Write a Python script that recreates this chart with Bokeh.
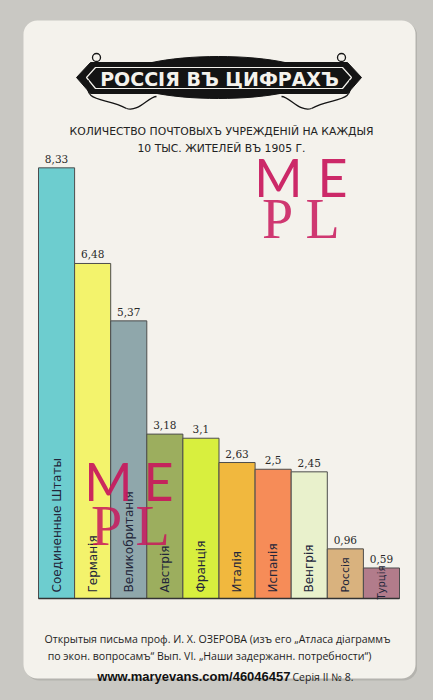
import math
from bokeh.plotting import figure
from bokeh.models import Range1d, BoxAnnotation, ColumnDataSource
from bokeh.core.properties import value
from bokeh.embed import file_html
from bokeh.resources import INLINE

# ---- data ----
countries = ["Соединенные Штаты", "Германія", "Великобританія", "Австрія", "Франція",
             "Италія", "Испанія", "Венгрія", "Россія", "Турція"]
offices = [8.33, 6.48, 5.37, 3.18, 3.1, 2.63, 2.5, 2.45, 0.96, 0.59]
bar_colors = ["#6dcdcf", "#f3f36c", "#8fa7ab", "#9cae5e", "#d8ef3e",
              "#f1b83e", "#f68c58", "#e9f1cc", "#d9b27e", "#b27c8b"]
value_labels = [f"{v:g}".replace(".", ",") for v in offices]

title = "РОССІЯ ВЪ ЦИФРАХЪ"
subtitle1 = "КОЛИЧЕСТВО ПОЧТОВЫХЪ УЧРЕЖДЕНІЙ НА КАЖДЫЯ"
subtitle2 = "10 ТЫС. ЖИТЕЛЕЙ ВЪ 1905 Г."
footer1 = "Открытыя письма проф. И. Х. ОЗЕРОВА (изъ его „Атласа діаграммъ"
footer2 = "по экон. вопросамъ“ Вып. VI. „Наши задержанн. потребности“)"
series_note = "Серія II № 8."
credit = "www.maryevans.com/46046457"

# ---- geometry helpers (picture pixel -> data) ----
W, H = 417, 684
SX, SY = 36.1, 51.7
x0 = -38 / SX
y1 = 598 / SY
def X(ix):
    return x0 + ix / SX
def Y(iy):
    return y1 - iy / SY

p = figure(width=W, height=H, output_backend="svg", toolbar_location=None,
           x_range=Range1d(x0, x0 + W / SX), y_range=Range1d(y1 - H / SY, y1),
           x_axis_type=None, y_axis_type=None, min_border=0,
           background_fill_color="#c9c8c3", border_fill_color="#c9c8c3",
           outline_line_color=None)
p.grid.visible = False

# card
p.add_layout(BoxAnnotation(left=X(25), right=X(417), top=Y(22), bottom=Y(680),
                           fill_color="#b4b3ae", fill_alpha=1, line_color=None,
                           border_radius=14, level="underlay"))
p.add_layout(BoxAnnotation(left=X(23), right=X(415), top=Y(20), bottom=Y(678),
                           fill_color="#f4f2ec", fill_alpha=1, line_color=None,
                           border_radius=14, level="underlay"))

# banner
p.patch([X(76), X(90), X(347), X(361), X(347), X(90)],
        [Y(77), Y(62), Y(62), Y(77), Y(93), Y(93)],
        fill_color="#141414", line_color="#141414")
p.ellipse(x=X(218), y=Y(77), width=190 / SX, height=42 / SY,
          fill_color="#141414", line_color="#141414")
p.patch([X(86), X(95), X(342), X(351), X(342), X(95)],
        [Y(77), Y(67), Y(67), Y(77), Y(88), Y(88)],
        fill_color=None, line_color="#f4f2ec", line_width=1.2)
# scroll ornaments
for cx, sgn in ((96, 1), (341, -1)):
    p.circle(x=X(cx), y=Y(57), radius=4 / SX, fill_color=None,
             line_color="#141414", line_width=1.3)
    p.bezier(x0=X(cx - 8 * sgn), y0=Y(80), x1=X(cx + 30 * sgn), y1=Y(108),
             cx0=X(cx - 14 * sgn), cy0=Y(104), cx1=X(cx + 10 * sgn), cy1=Y(96),
             line_color="#141414", line_width=1.3)
    p.bezier(x0=X(cx + 30 * sgn), y0=Y(108), x1=X(cx + 60 * sgn), y1=Y(96),
             cx0=X(cx + 42 * sgn), cy0=Y(112), cx1=X(cx + 52 * sgn), cy1=Y(96),
             line_color="#141414", line_width=1.3)

p.text(x=[X(219)], y=[Y(78)], text=[title], text_color="#f4f2ec",
       text_font=value("DejaVu Sans"), text_font_style="bold", text_font_size="19px",
       text_align="center", text_baseline="middle")

p.text(x=[X(221), X(221)], y=[Y(131), Y(148)], text=[subtitle1, subtitle2],
       text_color="#222222", text_font=value("DejaVu Sans"), text_font_size="10.8px",
       text_align="center", text_baseline="middle")

# bars
n = len(countries)
name_sizes = ["12px"] * (n - 2) + ["11px", "10px"]
name_y = [Y(592)] * (n - 1) + [Y(599)]
src = ColumnDataSource(dict(x=[i + 0.5 for i in range(n)], top=offices, color=bar_colors,
                            name=countries, lab=value_labels, nsize=name_sizes, ny=name_y,
                            ly=[v + 5 / SY for v in offices]))
p.vbar(x="x", top="top", bottom=0, width=1, fill_color="color",
       line_color="#4d4d4d", line_width=1, source=src)
p.line(x=[0, n], y=[0, 0], line_color="#333333", line_width=1.5)

p.text(x="x", y="ly", text="lab", source=src, text_color="#2a2a2a",
       text_font=value("DejaVu Serif"), text_font_size="10.5px",
       text_align="center", text_baseline="bottom")
p.text(x="x", y="ny", text="name", source=src,
       angle=math.pi / 2, text_color="#23263a", text_font=value("DejaVu Sans"),
       text_font_size="nsize", text_align="left", text_baseline="middle")

# footer
p.text(x=[X(217), X(209)], y=[Y(638), Y(655)], text=[footer1, footer2],
       text_color="#1e1e1e", text_font=value("Open Sans"), text_font_size="10.6px",
       text_align="center", text_baseline="middle")
p.text(x=[X(292)], y=[Y(676)], text=[series_note], text_color="#1e1e1e",
       text_font=value("Open Sans"), text_font_size="10.5px",
       text_align="left", text_baseline="middle")
p.text(x=[X(290)], y=[Y(676)], text=[credit], text_color="#111111",
       text_font=value("Liberation Sans"), text_font_style="bold",
       text_font_size="13px", text_align="right", text_baseline="middle")

# watermarks
WM = "#c8185c"
for mx, ex, mey, px_, ly_, ply in ((278, 332, 176, 277, 322, 218),
                                   (108, 158, 480, 106, 152, 525)):
    p.text(x=[X(mx), X(ex)], y=[Y(mey), Y(mey)], text=["M", "E"], text_color=WM,
           text_font=value("Lato"), text_font_size="52px",
           text_align="center", text_baseline="middle", text_alpha=0.92)
    p.text(x=[X(px_), X(ly_)], y=[Y(ply), Y(ply)], text=["P", "L"], text_color=WM,
           text_font=value("Liberation Serif"), text_font_size="56px",
           text_align="center", text_baseline="middle", text_alpha=0.85)

html = file_html(p, INLINE)
html = html.replace("<head>", "<head><style>body{background:#c9c8c3;}</style>", 1)
open("out.html", "w").write(html)
